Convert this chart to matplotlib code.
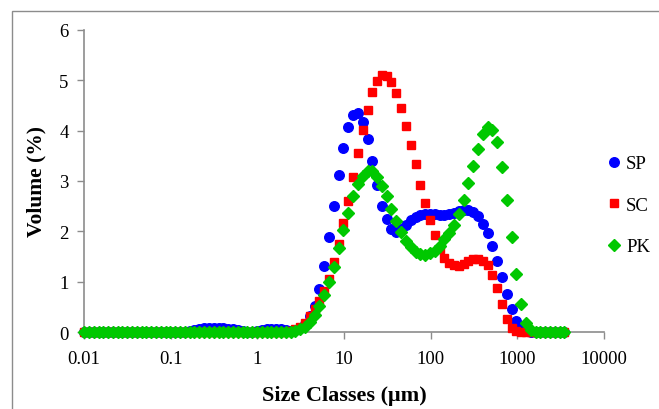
import numpy as np
import matplotlib
matplotlib.use("Agg")
import matplotlib.pyplot as plt
from matplotlib.patches import Rectangle
from matplotlib.ticker import FixedLocator, NullLocator

plt.rcParams['font.family'] = ['Liberation Serif', 'DejaVu Serif']

# Size classes (um) of the laser diffraction analyser
size_classes = [
    0.0100, 0.0114, 0.0129, 0.0147, 0.0167, 0.0189, 0.0215, 0.0244, 0.0278, 0.0315,
    0.0358, 0.0407, 0.0463, 0.0526, 0.0597, 0.0679, 0.0771, 0.0876, 0.0995, 0.113,
    0.128, 0.146, 0.166, 0.188, 0.214, 0.243, 0.276, 0.314, 0.357, 0.405,
    0.460, 0.523, 0.594, 0.675, 0.767, 0.872, 0.991, 1.13, 1.28, 1.45,
    1.65, 1.88, 2.13, 2.42, 2.75, 3.12, 3.55, 4.03, 4.58, 5.21,
    5.92, 6.72, 7.64, 8.68, 9.86, 11.2, 12.7, 14.5, 16.4, 18.7,
    21.2, 24.1, 27.4, 31.1, 35.3, 40.1, 45.6, 51.8, 58.9, 66.9,
    76.0, 86.4, 98.1, 111, 127, 144, 163, 186, 211, 240,
    272, 310, 352, 400, 454, 516, 586, 666, 756, 859,
    976, 1110, 1260, 1430, 1630, 1850, 2100, 2390, 2710, 3080,
    3500,
]

# Volume (%) per size class
sp = [
    0, 0, 0, 0, 0, 0, 0, 0, 0, 0,
    0, 0, 0, 0, 0, 0, 0, 0, 0, 0,
    0, 0, 0.02, 0.04, 0.06, 0.07, 0.08, 0.08, 0.08, 0.07,
    0.06, 0.05, 0.03, 0.01, 0, 0, 0.01, 0.03, 0.05, 0.06,
    0.06, 0.05, 0.03, 0.02, 0.03, 0.07, 0.16, 0.32, 0.52, 0.85,
    1.31, 1.88, 2.50, 3.11, 3.66, 4.08, 4.32, 4.36, 4.18, 3.84,
    3.39, 2.92, 2.51, 2.25, 2.05, 1.98, 2.04, 2.13, 2.23, 2.29,
    2.33, 2.35, 2.35, 2.34, 2.33, 2.33, 2.35, 2.37, 2.40, 2.43,
    2.42, 2.38, 2.30, 2.14, 1.96, 1.71, 1.41, 1.09, 0.75, 0.46,
    0.22, 0.08, 0.01, 0, 0, 0, 0, 0, 0, 0,
    0,
]
sc = [
    0, 0, 0, 0, 0, 0, 0, 0, 0, 0,
    0, 0, 0, 0, 0, 0, 0, 0, 0, 0,
    0, 0, 0, 0, 0, 0, 0, 0, 0, 0,
    0, 0, 0, 0, 0, 0, 0, 0, 0, 0,
    0, 0, 0, 0.02, 0.05, 0.10, 0.18, 0.31, 0.46, 0.62,
    0.82, 1.06, 1.39, 1.74, 2.16, 2.60, 3.08, 3.56, 4.02, 4.42,
    4.77, 4.98, 5.10, 5.09, 4.96, 4.75, 4.45, 4.10, 3.72, 3.33,
    2.93, 2.57, 2.22, 1.92, 1.64, 1.48, 1.38, 1.33, 1.32, 1.36,
    1.42, 1.46, 1.46, 1.42, 1.33, 1.13, 0.87, 0.55, 0.26, 0.08,
    0.02, 0, 0, 0, 0, 0, 0, 0, 0, 0,
    0,
]
pk = [
    0, 0, 0, 0, 0, 0, 0, 0, 0, 0,
    0, 0, 0, 0, 0, 0, 0, 0, 0, 0,
    0, 0, 0, 0, 0, 0, 0, 0, 0, 0,
    0, 0, 0, 0, 0, 0, 0, 0, 0, 0,
    0, 0, 0, 0, 0.02, 0.05, 0.10, 0.19, 0.34, 0.52,
    0.73, 1.00, 1.30, 1.66, 2.02, 2.36, 2.70, 2.95, 3.10, 3.20,
    3.20, 3.07, 2.90, 2.70, 2.45, 2.20, 1.99, 1.81, 1.68, 1.59,
    1.54, 1.53, 1.56, 1.61, 1.70, 1.84, 1.97, 2.12, 2.34, 2.63,
    2.96, 3.29, 3.64, 3.93, 4.07, 4.02, 3.77, 3.27, 2.63, 1.88,
    1.15, 0.56, 0.17, 0.03, 0, 0, 0, 0, 0, 0,
    0,
]

x_ticks = [0.01, 0.1, 1, 10, 100, 1000, 10000]
x_tick_labels = ['0.01', '0.1', '1', '10', '100', '1000', '10000']
y_ticks = [0, 1, 2, 3, 4, 5, 6]

W, H = 659, 410
fig = plt.figure(figsize=(W / 100, H / 100), dpi=100)

# outer chart border (Excel chart area)
fig.patches.append(Rectangle((12 / W, -0.1), 1.2, 1 - 12 / H + 0.1,
                             transform=fig.transFigure, fill=False,
                             edgecolor='#8c8c8c', linewidth=1.0))

ax = fig.add_axes([84 / W, 1 - 333 / H, (604 - 84) / W, (333 - 31) / H])

ax.plot(size_classes, sp, linestyle='none', marker='o', markersize=6.9,
        color='#0000ff', label='SP', clip_on=False, zorder=3)
ax.plot(size_classes, sc, linestyle='none', marker='s', markersize=6.1,
        color='#ff0000', label='SC', clip_on=False, zorder=4)
ax.plot(size_classes, pk, linestyle='none', marker='D', markersize=5.9,
        color='#00c800', label='PK', clip_on=False, zorder=5)

ax.set_xscale('log')
ax.set_xlim(0.01, 10000)
ax.set_ylim(0, 6)
ax.xaxis.set_major_locator(FixedLocator(x_ticks))
ax.xaxis.set_minor_locator(NullLocator())
ax.set_xticklabels(x_tick_labels)
ax.set_yticks(y_ticks)

for side in ['top', 'right']:
    ax.spines[side].set_visible(False)
for side in ['left', 'bottom']:
    ax.spines[side].set_color('#8c8c8c')
    ax.spines[side].set_linewidth(1.2)
ax.tick_params(axis='both', direction='out', length=5, width=1,
               color='#8c8c8c', labelsize=13.5, labelcolor='black')
ax.tick_params(axis='x', pad=8)
ax.tick_params(axis='y', pad=6)

ax.set_xlabel('Size Classes (\u03bcm)', fontsize=16, fontweight='bold', labelpad=13)
ax.set_ylabel('Volume (%)', fontsize=15.5, fontweight='bold', labelpad=9)

ax.legend(loc='center left', bbox_to_anchor=(598 / W, 1 - 206 / H),
          bbox_transform=fig.transFigure, frameon=False, fontsize=13.5,
          labelspacing=1.3, handlelength=0.9, handletextpad=0.2,
          borderaxespad=0)

fig.savefig('out.png', dpi=100)
